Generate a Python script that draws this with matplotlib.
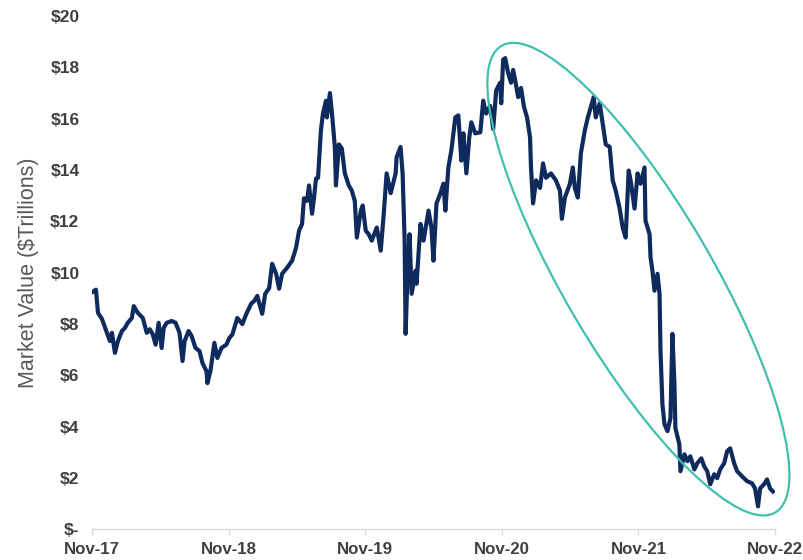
import matplotlib
matplotlib.use("Agg")
import matplotlib.pyplot as plt
from matplotlib.patches import Ellipse
from matplotlib.transforms import IdentityTransform

plt.rcParams['font.family'] = ['Liberation Sans', 'DejaVu Sans']

# x: years since Nov-2017, y: market value ($ trillions)
years = [0.007, 0.029, 0.044, 0.073, 0.109, 0.131, 0.146, 0.168, 0.190, 0.219,
         0.241, 0.262, 0.292, 0.306, 0.335, 0.372, 0.401, 0.423, 0.445, 0.466,
         0.488, 0.510, 0.525, 0.547, 0.583, 0.612, 0.641, 0.663, 0.678, 0.707,
         0.729, 0.758, 0.787, 0.809, 0.838, 0.845, 0.867, 0.896, 0.918, 0.948,
         0.984, 1.006, 1.028, 1.064, 1.101, 1.130, 1.166, 1.188, 1.210, 1.246,
         1.268, 1.297, 1.319, 1.348, 1.370, 1.392, 1.429, 1.465, 1.494, 1.516,
         1.538, 1.552, 1.574, 1.589, 1.611, 1.625, 1.640, 1.655, 1.676, 1.691,
         1.713, 1.720, 1.742, 1.757, 1.778, 1.786, 1.808, 1.829, 1.851, 1.880,
         1.902, 1.924, 1.939, 1.968, 1.982, 2.004, 2.026, 2.048, 2.085, 2.114,
         2.136, 2.157, 2.187, 2.223, 2.230, 2.259, 2.274, 2.289, 2.296, 2.310,
         2.325, 2.340, 2.369, 2.376, 2.405, 2.427, 2.464, 2.485, 2.500, 2.522,
         2.551, 2.573, 2.587, 2.609, 2.631, 2.660, 2.682, 2.704, 2.719, 2.741,
         2.762, 2.777, 2.806, 2.843, 2.864, 2.886, 2.915, 2.937, 2.959, 2.988,
         2.996, 3.010, 3.025, 3.047, 3.068, 3.083, 3.098, 3.120, 3.141, 3.163,
         3.185, 3.207, 3.214, 3.229, 3.251, 3.280, 3.302, 3.324, 3.360, 3.396,
         3.426, 3.440, 3.462, 3.499, 3.520, 3.535, 3.557, 3.579, 3.608, 3.630,
         3.652, 3.673, 3.688, 3.717, 3.739, 3.761, 3.790, 3.812, 3.834, 3.863,
         3.885, 3.907, 3.929, 3.943, 3.972, 3.994, 4.016, 4.045, 4.052, 4.082,
         4.089, 4.103, 4.118, 4.140, 4.155, 4.162, 4.176, 4.191, 4.213, 4.235,
         4.249, 4.264, 4.271, 4.300, 4.308, 4.337, 4.359, 4.380, 4.410, 4.431,
         4.461, 4.482, 4.504, 4.526, 4.555, 4.577, 4.599, 4.628, 4.650, 4.672,
         4.701, 4.723, 4.759, 4.796, 4.832, 4.854, 4.876, 4.891, 4.920, 4.942,
         4.964, 4.985]

values = [9.26, 9.34, 8.44, 8.20, 7.66, 7.34, 7.66, 6.88, 7.34, 7.73,
          7.85, 8.05, 8.24, 8.70, 8.44, 8.24, 7.66, 7.80, 7.60, 7.20,
          8.05, 7.07, 7.85, 8.05, 8.12, 8.05, 7.66, 6.56, 7.34, 7.73,
          7.54, 7.07, 6.95, 6.48, 6.17, 5.70, 6.17, 7.27, 6.68, 7.07,
          7.20, 7.46, 7.60, 8.24, 8.00, 8.40, 8.80, 8.90, 9.10, 8.40,
          9.18, 9.40, 10.35, 9.96, 9.38, 9.96, 10.20, 10.47, 10.98, 11.64,
          11.90, 12.90, 12.80, 13.40, 12.30, 12.90, 13.67, 13.70, 15.55, 16.20,
          16.70, 16.05, 17.00, 16.20, 14.90, 13.40, 15.00, 14.84, 13.87, 13.40,
          13.20, 12.80, 11.37, 12.42, 12.62, 11.64, 11.50, 11.25, 11.76, 10.86,
          12.30, 13.87, 13.10, 13.87, 14.50, 14.90, 13.87, 11.25, 7.62, 9.96,
          11.50, 9.18, 10.08, 9.57, 11.90, 11.25, 12.42, 11.76, 10.47, 12.70,
          13.10, 13.47, 12.42, 14.10, 14.77, 16.05, 16.13, 14.37, 15.43, 13.87,
          15.27, 15.86, 15.43, 15.47, 16.70, 16.20, 16.50, 15.60, 17.10, 17.40,
          16.60, 18.30, 18.36, 17.77, 17.40, 17.90, 17.50, 16.84, 17.20, 16.45,
          16.05, 15.27, 14.10, 12.70, 13.60, 13.30, 14.26, 13.70, 13.87, 13.60,
          13.20, 12.10, 12.93, 13.47, 14.10, 13.30, 12.93, 14.65, 15.55, 16.05,
          16.45, 16.84, 16.05, 16.60, 15.80, 15.00, 14.90, 13.60, 13.20, 12.50,
          11.76, 11.37, 13.98, 13.60, 12.50, 13.87, 13.47, 14.10, 12.03, 11.50,
          10.60, 10.08, 9.30, 9.96, 9.18, 6.95, 4.88, 4.10, 3.83, 4.34,
          7.62, 5.66, 3.95, 3.32, 2.27, 2.93, 2.66, 2.85, 2.34, 2.58,
          2.77, 2.46, 2.27, 1.76, 2.15, 2.00, 2.34, 2.58, 3.05, 3.16,
          2.58, 2.27, 2.07, 1.88, 1.80, 1.60, 0.90, 1.60, 1.76, 1.95,
          1.60, 1.48]

x_ticks = [0, 1, 2, 3, 4, 5]
x_labels = ['Nov-17', 'Nov-18', 'Nov-19', 'Nov-20', 'Nov-21', 'Nov-22']
y_ticks = [0, 2, 4, 6, 8, 10, 12, 14, 16, 18, 20]
y_labels = ['$-', '$2', '$4', '$6', '$8', '$10', '$12', '$14', '$16', '$18', '$20']

# highlight ellipse (centre in data units, size in pixels)
ell_center = (4.0, 9.75)
ell_w, ell_h, ell_angle = 541, 148, -59.6

fig = plt.figure(figsize=(8.04, 5.6), dpi=100)
ax = fig.add_axes([0.1144, 0.0545, 0.8495, 0.9169])

ax.plot(years, values, color='#0F2A5C', linewidth=3.0, solid_joinstyle='round')

ax.set_xlim(0, 5)
ax.set_ylim(0, 20)
ax.set_xticks(x_ticks)
ax.set_xticklabels(x_labels)
ax.set_yticks(y_ticks)
ax.set_yticklabels(y_labels)

for s in ['top', 'right', 'left']:
    ax.spines[s].set_visible(False)
ax.spines['bottom'].set_color('#D9D9D9')
ax.spines['bottom'].set_linewidth(1.0)

ax.tick_params(axis='x', direction='out', length=4, width=1, color='#D9D9D9',
               labelsize=12.2, labelcolor='#404040', pad=5)
ax.tick_params(axis='y', length=0, labelsize=12.5, labelcolor='#404040', pad=9)
for lbl in ax.get_xticklabels() + ax.get_yticklabels():
    lbl.set_fontweight('bold')

ax.set_ylabel('Market Value ($Trillions)', fontsize=15.5, color='#595959', labelpad=8)

fig.canvas.draw()
cx, cy = ax.transData.transform(ell_center)
ell = Ellipse((cx, cy), ell_w, ell_h, angle=ell_angle, transform=IdentityTransform(),
              fill=False, edgecolor='#41BFAD', linewidth=1.6, clip_on=False)
fig.patches.append(ell)

fig.savefig('out.png', dpi=100)
